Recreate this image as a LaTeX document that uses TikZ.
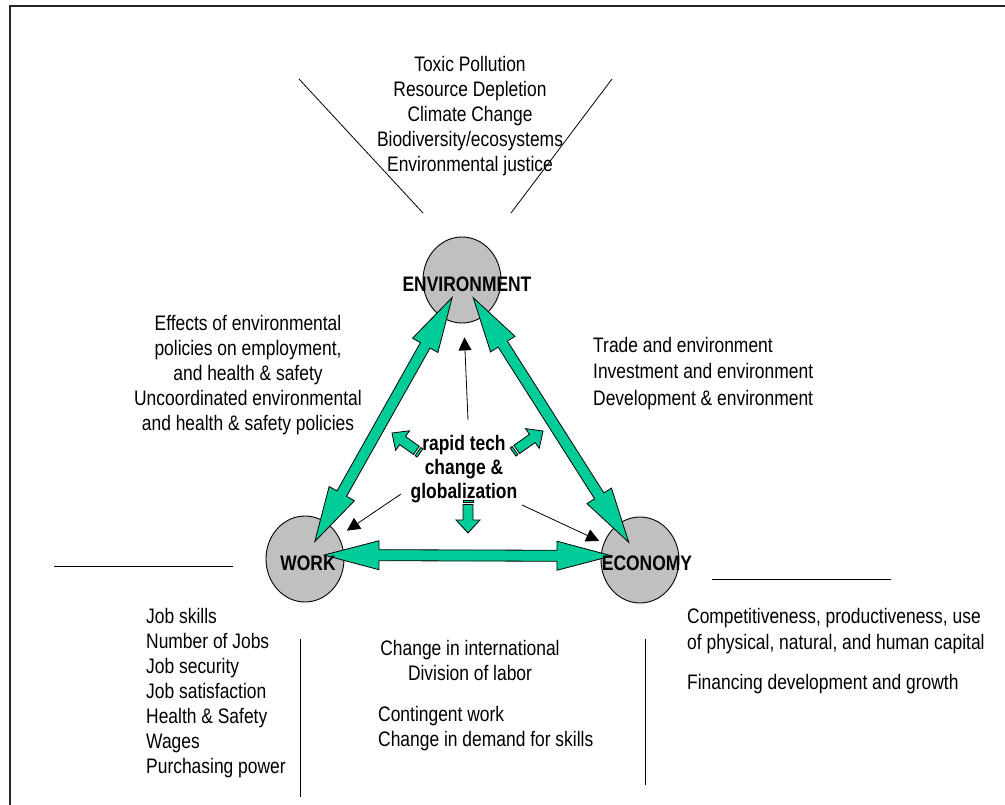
\documentclass[tikz,border=0pt]{standalone}
\usepackage{fontspec}
\setmainfont{Liberation Sans}[FakeStretch=0.83]
\usepackage{xcolor}
\usepackage{tikz}
\usetikzlibrary{arrows.meta, calc, shapes.geometric}

\definecolor{arrowgreen}{RGB}{0,204,153}
\definecolor{hubgray}{RGB}{192,192,192}

% double block arrow between two tip coordinates
\newcommand{\dblblock}[2]{%
  \coordinate (#1-p) at ($(#1)!55pt!(#2)$);
  \coordinate (#2-q) at ($(#2)!55pt!(#1)$);
  \draw[blockarrow] (#1)
    -- ($(#1-p)!14.5pt!90:(#2)$) -- ($(#1-p)!5.5pt!90:(#2)$)
    -- ($(#2-q)!5.5pt!90:(#2)$) -- ($(#2-q)!14.5pt!90:(#2)$)
    -- (#2)
    -- ($(#2-q)!14.5pt!-90:(#2)$) -- ($(#2-q)!5.5pt!-90:(#2)$)
    -- ($(#1-p)!5.5pt!-90:(#2)$) -- ($(#1-p)!14.5pt!-90:(#2)$)
    -- cycle;}

% small striped block arrow from tail to tip
\newcommand{\tipblock}[2]{%
  \coordinate (#1-m) at ($(#1)!2.5pt!(#2)$);
  \coordinate (#1-s) at ($(#1)!4.5pt!(#2)$);
  \coordinate (#1-h) at ($(#2)!13pt!(#1)$);
  \draw[blockarrow] ($(#1-s)!5pt!90:(#2)$) -- ($(#1-h)!5pt!90:(#2)$)
    -- ($(#1-h)!12pt!90:(#2)$) -- (#2) -- ($(#1-h)!12pt!-90:(#2)$)
    -- ($(#1-h)!5pt!-90:(#2)$) -- ($(#1-s)!5pt!-90:(#2)$) -- cycle;
  \draw[blockarrow] ($(#1)!5pt!90:(#2)$) -- ($(#1-m)!5pt!90:(#2)$)
    -- ($(#1-m)!5pt!-90:(#2)$) -- ($(#1)!5pt!-90:(#2)$) -- cycle;}

\begin{document}
\begin{tikzpicture}[
	  x=1pt, y=-1pt,
	  font=\fontsize{21}{25}\selectfont,
	  hub/.style={
	    ellipse,
	    draw,
	    line width=0.9pt,
	    fill=hubgray,
	    minimum width=78pt,
	    minimum height=86pt,
	    inner sep=0pt
	  },
	  hublabel/.style={font=\fontsize{21}{25}\selectfont\bfseries, inner sep=0pt},
	  issues/.style={inner sep=0pt, align=center},
	  listing/.style={inner sep=0pt, align=left},
	  sepline/.style={line width=0.8pt},
	  thinarrow/.style={-{Triangle[length=13pt, width=13pt]}, line width=0.8pt},
	  blockarrow/.style={draw=black, fill=arrowgreen, line width=0.8pt}
	]
	
	\useasboundingbox (0,0) rectangle (1005,805);
	\draw[line width=1.3pt, black!85] (10,805) -- (10,6) -- (1005,6);
	
	\node[hub] (env) at (462,280) {};
	\node[hub] (work) at (305,559) {};
	\node[hub] (econ) at (640,560) {};
	
	\node[issues, anchor=north] (envissues) at (470,56) {Toxic Pollution\\Resource Depletion\\Climate Change\\Biodiversity/ecosystems\\Environmental justice};
	\node[issues, anchor=north] (workenv) at (248,315) {Effects of environmental\\policies on employment,\\and health \& safety\\Uncoordinated environmental\\and health \& safety policies};
	\node[listing, anchor=north west, font=\fontsize{21}{26.5}\selectfont] (envecon) at (593,337) {Trade and environment\\Investment and environment\\Development \& environment};
	\node[issues, anchor=north, font=\fontsize{21}{24}\selectfont\bfseries] (driver) at (464,435) {rapid tech\\change \&\\globalization};
	\node[listing, anchor=north west] (worklist) at (146,608) {Job skills\\Number of Jobs\\Job security\\Job satisfaction\\Health \& Safety\\Wages\\Purchasing power};
	\node[issues, anchor=north] (tradelist) at (470,640) {Change in international\\Division of labor};
	\node[listing, anchor=north west] (laborlist) at (378,706) {Contingent work\\Change in demand for skills};
	\node[listing, anchor=north west, font=\fontsize{21}{26}\selectfont] (econlist) at (687,608) {Competitiveness, productiveness, use\\of physical, natural, and human capital\\[14pt]Financing development and growth};
	
	% separator strokes
	\draw[sepline] (299,79) -- (423,213);
	\draw[sepline] (612,79) -- (511,213);
	\draw[sepline] (54,566) -- (233,566);
	\draw[sepline] (712,579) -- (891,579);
	\draw[sepline] (300,639) -- (300,797);
	\draw[sepline] (645,639) -- (645,785);
	
	% influence of the driver
	\coordinate (drv-up) at (468,420);
	\coordinate (drv-left) at (401,494);
	\coordinate (drv-right) at (522,505);
	\draw[thinarrow, shorten >=14pt] (drv-up) -- (env);
	\draw[thinarrow, shorten >=10pt] (drv-left) -- (work);
	\draw[thinarrow, shorten >=5pt] (drv-right) -- (econ);
	
	\coordinate (nw-tail) at (420,453);
	\coordinate (nw-tip) at (392,433);
	\coordinate (ne-tail) at (513,452);
	\coordinate (ne-tip) at (543,431);
	\coordinate (s-tail) at (468,500);
	\coordinate (s-tip) at (468,533);
	\tipblock{nw-tail}{nw-tip}
	\tipblock{ne-tail}{ne-tip}
	\tipblock{s-tail}{s-tip}
	
	% links between the three pillars
	\coordinate (work-env) at ($(work)!20pt!(env)$);
	\coordinate (env-work) at ($(env)!20pt!(work)$);
	\coordinate (env-econ) at ($(env)!21pt!(econ)$);
	\coordinate (econ-env) at ($(econ)!21pt!(env)$);
	\coordinate (work-econ) at ($(work)!19pt!(econ) + (0,-4)$);
	\coordinate (econ-work) at ($(econ)!28pt!(work) + (0,-4)$);
	\dblblock{work-env}{env-work}
	\dblblock{env-econ}{econ-env}
	\dblblock{work-econ}{econ-work}
	
	\node[hublabel] (envlabel) at (467,284) {ENVIRONMENT};
	\node[hublabel] (worklabel) at (308,563) {WORK};
	\node[hublabel] (econlabel) at (647,563) {ECONOMY};
	
	\end{tikzpicture}
\end{document}
